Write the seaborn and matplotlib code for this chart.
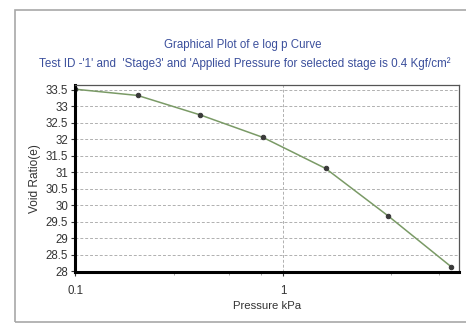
import numpy as np
import pandas as pd
import seaborn as sns
import matplotlib.pyplot as plt
from matplotlib.patches import Rectangle
from matplotlib.ticker import FixedLocator, NullFormatter

# e log p data
pressure = [0.1, 0.2, 0.4, 0.8, 1.6, 3.2, 6.4]
void_ratio = [33.52, 33.33, 32.74, 32.06, 31.12, 29.68, 28.15]
y_ticks = [28, 28.5, 29, 29.5, 30, 30.5, 31, 31.5, 32, 32.5, 33, 33.5]
y_labels = ["28", "28.5", "29", "29.5", "30", "30.5", "31", "31.5", "32", "32.5", "33", "33.5"]

df = pd.DataFrame({"Pressure": pressure, "Void": void_ratio})

sns.set_style("white")
plt.rcParams['font.family'] = ['Liberation Sans', 'DejaVu Sans']

fig = plt.figure(figsize=(4.66, 3.24), dpi=100)
ax = fig.add_axes([0.161, 0.160, 0.824, 0.578])

# window frame
fig.patches.append(Rectangle((15/466, 2/324), 1.2, 312/324, transform=fig.transFigure,
                             fill=False, edgecolor='#a8a8a8', linewidth=1.2))

sns.lineplot(data=df, x="Pressure", y="Void", ax=ax, color='#7a9a66', linewidth=1.1,
             marker='o', markersize=3.2, markerfacecolor='#3a3a3a', markeredgecolor='#3a3a3a')

ax.set_xscale('log')
ax.set_xlim(0.1, 7.0)
ax.set_ylim(27.98, 33.65)
ax.set_yticks(y_ticks)
ax.set_yticklabels(y_labels)
ax.xaxis.set_major_locator(FixedLocator([0.1, 1]))
ax.set_xticklabels(["0.1", "1"])
ax.xaxis.set_minor_locator(FixedLocator([0.3, 0.55, 0.78, 3.3, 5.6]))
ax.xaxis.set_minor_formatter(NullFormatter())

ax.grid(axis='y', linestyle=(0, (3, 2)), color='#b0b0b0', linewidth=0.7)
ax.axvline(1, linestyle=(0, (3, 2)), color='#b0b0b0', linewidth=0.7, zorder=0)

for side in ['left', 'bottom']:
    ax.spines[side].set_color('black')
    ax.spines[side].set_linewidth(2.2)
for side in ['top', 'right']:
    ax.spines[side].set_color('#555555')
    ax.spines[side].set_linewidth(0.9)

ax.tick_params(axis='both', which='major', labelsize=8.3, colors='#333333', length=3, width=0.8,
               direction='out', pad=2, left=True, bottom=True)
ax.tick_params(axis='x', which='minor', length=2, width=0.6, colors='#999999', bottom=True)
ax.tick_params(axis='x', which='major', pad=6)

ax.set_xlabel("Pressure kPa", fontsize=8.2, color='#333333', labelpad=3)
ax.set_ylabel("Void Ratio(e)", fontsize=8.6, color='#333333', labelpad=3)

fig.text(0.52, 0.862, "Graphical Plot of e log p Curve", ha='center', va='center',
         fontsize=8.3, color='#3b4f9c')
fig.text(0.525, 0.803, "Test ID -'1' and  'Stage3' and 'Applied Pressure for selected stage is 0.4 Kgf/cm\u00b2",
         ha='center', va='center', fontsize=8.4, color='#3b4f9c')

fig.savefig("out.png", dpi=100)
